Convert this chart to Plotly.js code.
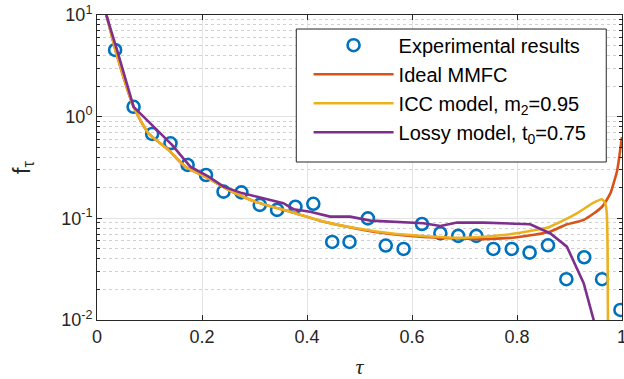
<!DOCTYPE html>
<html><head><meta charset="utf-8">
<script src="https://cdn.plot.ly/plotly-3.0.1.min.js"></script>
<style>html,body{margin:0;padding:0;background:#fff}#chart{width:624px;height:379px}</style>
</head><body><div id="chart"></div>
<script>
// Experimental results
const expTau = [0.0345,0.0697,0.105,0.140,0.1726,0.2076,0.241,0.275,0.310,0.343,0.378,0.412,0.448,0.481,0.516,0.550,0.584,0.619,0.654,0.688,0.7225,0.755,0.790,0.824,0.859,0.894,0.928,0.962,0.997];
const expF   = [4.53,1.25,0.676,0.547,0.335,0.267,0.183,0.180,0.1355,0.121,0.130,0.139,0.0586,0.0586,0.100,0.054,0.050,0.088,0.0713,0.0672,0.0672,0.050,0.050,0.046,0.0543,0.0252,0.0414,0.0252,0.01256];

// Ideal MMFC
const idealTau = [0.018,0.0253,0.035,0.0697,0.098,0.136,0.168,0.206,0.251,0.301,0.368,0.432,0.495,0.559,0.622,0.673,0.736,0.800,0.863,0.892,0.927,0.962,0.978,0.984,0.9905,0.9935,0.9968,1.0];
const idealF   = [10,7.12,4.53,1.25,0.687,0.471,0.322,0.257,0.190,0.146,0.116,0.0925,0.0790,0.0700,0.0655,0.0637,0.0624,0.0652,0.074,0.0861,0.0964,0.130,0.177,0.221,0.29,0.36,0.48,0.63];

// ICC model, m2 = 0.95
const iccTau = [0.018,0.0253,0.035,0.0697,0.098,0.136,0.168,0.206,0.251,0.301,0.368,0.432,0.495,0.559,0.622,0.686,0.736,0.800,0.863,0.914,0.946,0.962,0.968,0.971,0.9725,0.9735];
const iccF   = [10,7.12,4.53,1.25,0.687,0.471,0.322,0.257,0.190,0.146,0.116,0.0928,0.0798,0.0713,0.067,0.0645,0.066,0.0713,0.0828,0.112,0.1426,0.154,0.1406,0.112,0.0527,0.006];

// Lossy model, t0 = 0.75
const lossTau = [0.0177,0.0381,0.0697,0.1429,0.1777,0.2126,0.241,0.276,0.305,0.355,0.3745,0.406,0.444,0.482,0.521,0.559,0.622,0.654,0.686,0.736,0.825,0.863,0.895,0.927,0.946,0.949];
const lossF   = [10,4.53,1.25,0.527,0.322,0.257,0.205,0.177,0.163,0.141,0.123,0.116,0.104,0.104,0.095,0.093,0.0895,0.084,0.0908,0.0908,0.0875,0.0714,0.0527,0.023,0.01,0.006];

const yTickVals = [0.01,0.1,1,10];
const yTickText = ['10<sup>-2</sup>','10<sup>-1</sup>','10<sup>0</sup>','10<sup>1</sup>'];
const xTickVals = [0,0.2,0.4,0.6,0.8,1];
const xTickText = ['0','0.2','0.4','0.6','0.8','1'];
const yMinor = [];
[0.01,0.1,1].forEach(d=>{for(let k=2;k<=9;k++) yMinor.push(+(d*k).toPrecision(3));});

const font = 'Liberation Sans, Arial, sans-serif';
const lw = 2.6;
const traces = [
  {x:expTau, y:expF, mode:'markers', name:'Experimental results', type:'scatter',
   marker:{symbol:'circle-open', size:12, color:'#0072BD', line:{width:2.6, color:'#0072BD'}}},
  {x:idealTau, y:idealF, mode:'lines', name:'Ideal MMFC', line:{color:'#D95319', width:lw, shape:'spline', smoothing:0.6}},
  {x:iccTau, y:iccF, mode:'lines', name:'ICC model, m<sub>2</sub>=0.95', line:{color:'#EDB120', width:lw, shape:'spline', smoothing:0.5}},
  {x:lossTau, y:lossF, mode:'lines', name:'Lossy model, t<sub>0</sub>=0.75', line:{color:'#7E2F8E', width:lw}}
];
const layout = {
  width:624, height:379,
  margin:{l:97, r:2, t:15, b:59},
  paper_bgcolor:'#fff', plot_bgcolor:'#fff',
  font:{family:font, size:18, color:'#262626'},
  showlegend:true,
  legend:{x:0.403, y:0.965, xanchor:'left', yanchor:'top', bgcolor:'rgba(0,0,0,0)', borderwidth:0,
          font:{family:font, size:20, color:'#000'}, itemwidth:80, tracegroupgap:0},
  shapes:[{type:'rect', xref:'paper', yref:'paper', x0:0.3796, x1:0.970, y0:0.518, y1:0.954,
           line:{color:'#262626', width:1}, fillcolor:'#fff', layer:'above'}],
  xaxis:{range:[0,1], tickvals:xTickVals, ticktext:xTickText, ticks:'inside', ticklen:5, tickcolor:'#262626',
         showline:true, linecolor:'#262626', linewidth:1, mirror:'ticks', showgrid:true, gridcolor:'#e3e3e3', gridwidth:1,
         zeroline:false, tickfont:{size:18, color:'#262626'}, ticklabeloverflow:'allow',
         title:{text:'<i>τ</i>', font:{family:'Liberation Serif, serif', size:22, color:'#262626'}, standoff:15}},
  yaxis:{type:'log', range:[-2,1], tickvals:yTickVals, ticktext:yTickText, ticks:'inside', ticklen:5, tickcolor:'#262626',
         showline:true, linecolor:'#262626', linewidth:1, mirror:'ticks', showgrid:true, gridcolor:'#e3e3e3', gridwidth:1,
         zeroline:false, tickfont:{size:18, color:'#262626'},
         minor:{tickmode:'array', tickvals:yMinor, ticks:'inside', ticklen:3, tickcolor:'#262626', showgrid:true, gridcolor:'#d0d0d0', griddash:'dot', gridwidth:1},
         title:{text:'f<sub>τ</sub>', font:{size:23, color:'#262626'}, standoff:24}}
};
Plotly.newPlot('chart', traces, layout, {displayModeBar:false, staticPlot:true});
</script></body></html>
